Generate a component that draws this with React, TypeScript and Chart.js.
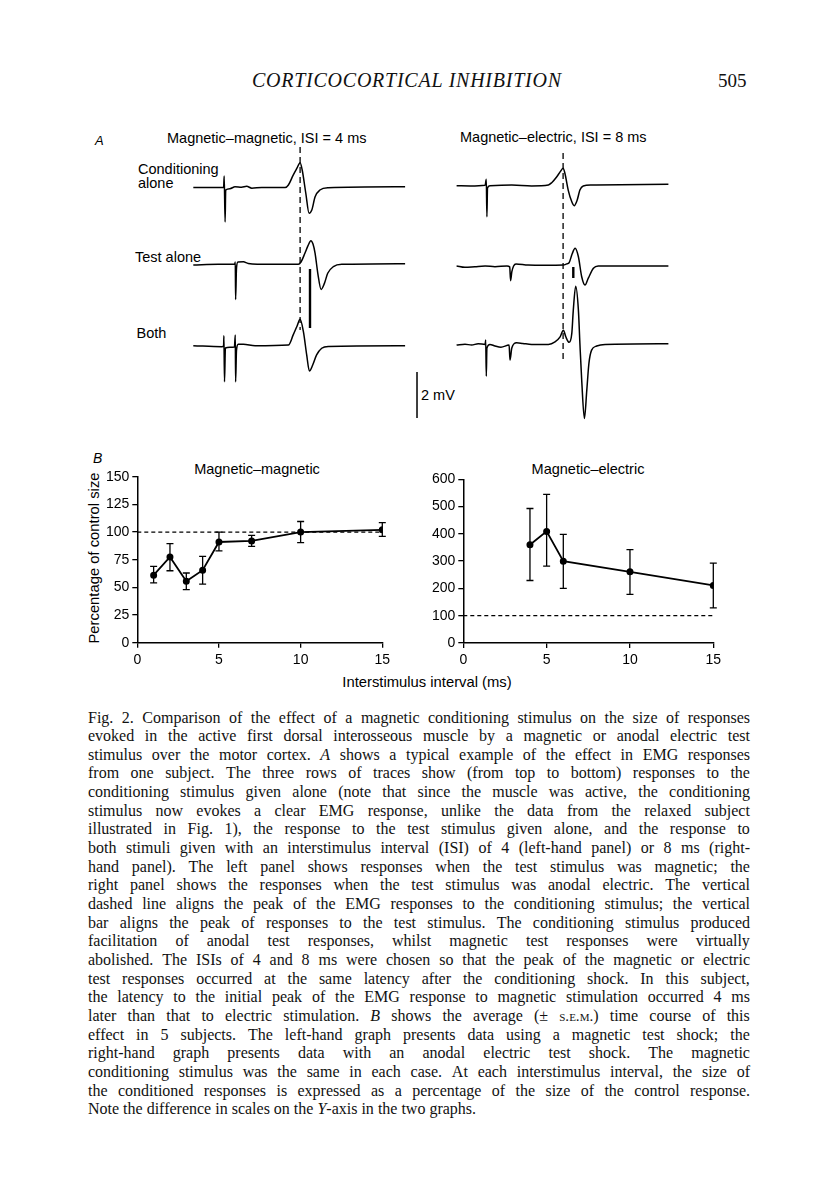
import React, { useEffect, useRef } from "react";
import { Chart, registerables } from "chart.js";

Chart.register(...registerables);

// ---------------- Panel B data ----------------
const xTickValues = [0, 5, 10, 15];
const mmYTicks = [0, 25, 50, 75, 100, 125, 150];
const meYTicks = [0, 100, 200, 300, 400, 500, 600];
const controlLevel = 100;

// Magnetic–magnetic (percentage of control size, mean ± s.e.m.)
const mmIsi = [1, 2, 3, 4, 5, 7, 10, 15];
const mmMean = [61, 77.5, 55.5, 65.5, 91, 92, 100, 102];
const mmLow = [54, 65, 48, 53, 83, 87, 90.5, 96];
const mmHigh = [69, 89.5, 63, 78, 100, 97, 109.5, 108.5];

// Magnetic–electric
const meIsi = [4, 5, 6, 10, 15];
const meMean = [360, 409, 300, 261, 211];
const meLow = [229, 282, 200, 178, 129];
const meHigh = [493, 545, 398, 342, 293];

// ---------------- Panel A traces: [time (ms), EMG (mV)] ----------------
const mmConditioning: [number, number][] = [
  [0.1, 0], [10.1, 0], [10.2, 0], [10.4, 0.5], [10.7, -1.5], [10.9, -0.11], [12.3, -0.05],
  [14, 0.03], [16.2, 0.01], [17.9, 0.05], [19.6, -0.03], [22.9, 0], [30.7, 0], [31.8, 0.11],
  [33.4, 0.54], [34.7, 0.85], [35.7, 1.08], [36.4, 0.76], [37.6, -0.25], [38.7, -1.12],
  [39.6, -0.98], [40.7, -0.4], [42.3, -0.11], [45.1, -0.01], [70.7, 0.03],
];
const mmTest: [number, number][] = [
  [0.1, -0.03], [8.4, 0], [13.9, 0], [14.1, 0.1], [14.2, -1.53], [14.5, -0.16], [15, 0.1],
  [16.8, 0.11], [18.4, 0.04], [25.7, 0], [35.1, 0], [36, 0.1], [37.3, 0.48], [38.3, 0.8],
  [39.3, 1.03], [40, 0.88], [40.7, 0.48], [41.6, -0.39], [42.7, -1.09], [43.8, -0.83],
  [44.9, -0.39], [46.8, -0.1], [49.6, 0], [70.7, 0.03],
];
const mmBoth: [number, number][] = [
  [0.1, 0], [9.6, -0.04], [10.2, -0.01], [10.3, 0.43], [10.5, -1.57], [10.8, -0.1], [12.3, -0.07],
  [13.8, -0.06], [14.1, 0.47], [14.2, -1.57], [14.5, -0.19], [15.1, 0.06], [16.8, 0.07],
  [20.7, 0], [31.8, 0.03], [33.4, 0.47], [34.7, 0.86], [35.7, 1.15], [36.8, 0.61], [37.9, -0.4],
  [38.8, -1.1], [39.9, -0.84], [41.2, -0.4], [42.9, -0.11], [45.1, -0.03], [70.7, 0],
];
const meConditioning: [number, number][] = [
  [0.2, 0], [4.7, -0.01], [9.7, 0.02], [10.1, 0.28], [10.3, -1.35], [10.5, -0.1], [11.3, 0],
  [18.6, 0.03], [25.2, -0.01], [30.8, 0.03], [31.9, 0.13], [33.6, 0.39], [34.7, 0.6],
  [35.7, 0.76], [36.3, 0.54], [37.4, -0.19], [38.6, -0.7], [39.4, -0.87], [40.4, -0.62],
  [41.3, -0.19], [42.4, -0.01], [45.2, 0.03], [70.8, 0.06],
];
const meTest: [number, number][] = [
  [0.2, 0], [3, -0.06], [6.3, -0.03], [9.7, 0], [13, -0.03], [17, 0], [17.9, -0.04],
  [18.2, -0.64], [18.6, -0.26], [19.2, 0], [20, 0.09], [24, 0.04], [29.7, 0.03], [35.8, 0.04],
  [36.9, 0.09], [37.7, 0.14], [38.7, 0.52], [39.7, 0.77], [40.8, 0.4], [41.9, -0.47],
  [43, -0.83], [44.1, -0.53], [45.8, -0.1], [47.4, 0], [70.8, 0],
];
const meBoth: [number, number][] = [
  [0.2, -0.03], [3, 0.01], [5.2, -0.03], [7.4, 0.03], [9.7, 0], [9.9, 0.19], [10.1, -1.38],
  [10.3, -0.16], [11.3, 0], [13, -0.07], [15, -0.12], [17.7, -0.03], [18, -0.68], [18.6, -0.16],
  [20.2, 0.07], [22.3, 0.04], [25.2, 0], [30.8, 0], [33, 0.11], [34.7, 0.33], [35.8, 0.62],
  [36.6, 0.33], [37.7, 0.09], [38.6, 0.48], [39.1, 1.49], [39.9, 2.53], [40.8, 1.49],
  [41.3, 0.04], [41.9, -1.55], [42.8, -3.22], [43.6, -1.99], [44.3, -0.83], [45.2, -0.25],
  [46.9, -0.07], [49.7, 0], [70.8, 0.03],
];

// row baselines (mV) of the three traces in each column
const mmRowBase = [0, -3.34, -6.88];
const meRowBase = [0, -3.49, -6.9];

// reference markers [time, top mV, bottom mV]
const mmDashed: [number, number, number] = [35.7, 1.76, -6.2];
const mmTestBar: [number, number, number] = [39, -3.54, -6.11];
const meDashed: [number, number, number] = [35.7, 1.42, -7.71];
const meTestBar: [number, number, number] = [39.1, -3.53, -4.01];
const scaleBarMv = 2;
const scaleBarPos: [number, number] = [74.67, -8.02];

// caption
const captionLines = [
  "Fig. 2. Comparison of the effect of a magnetic conditioning stimulus on the size of responses",
  "evoked in the active first dorsal interosseous muscle by a magnetic or anodal electric test",
  "stimulus over the motor cortex. *A* shows a typical example of the effect in EMG responses",
  "from one subject. The three rows of traces show (from top to bottom) responses to the",
  "conditioning stimulus given alone (note that since the muscle was active, the conditioning",
  "stimulus now evokes a clear EMG response, unlike the data from the relaxed subject",
  "illustrated in Fig. 1), the response to the test stimulus given alone, and the response to",
  "both stimuli given with an interstimulus interval (ISI) of 4 (left-hand panel) or 8 ms (right-",
  "hand panel). The left panel shows responses when the test stimulus was magnetic; the",
  "right panel shows the responses when the test stimulus was anodal electric. The vertical",
  "dashed line aligns the peak of the EMG responses to the conditioning stimulus; the vertical",
  "bar aligns the peak of responses to the test stimulus. The conditioning stimulus produced",
  "facilitation of anodal test responses, whilst magnetic test responses were virtually",
  "abolished. The ISIs of 4 and 8 ms were chosen so that the peak of the magnetic or electric",
  "test responses occurred at the same latency after the conditioning shock. In this subject,",
  "the latency to the initial peak of the EMG response to magnetic stimulation occurred 4 ms",
  "later than that to electric stimulation. *B* shows the average (± ~s.e.m.~) time course of this",
  "effect in 5 subjects. The left-hand graph presents data using a magnetic test shock; the",
  "right-hand graph presents data with an anodal electric test shock. The magnetic",
  "conditioning stimulus was the same in each case. At each interstimulus interval, the size of",
  "the conditioned responses is expressed as a percentage of the size of the control response.",
  "Note the difference in scales on the *Y*-axis in the two graphs.",
];

const SANS = "'Liberation Sans', Arial, Helvetica, sans-serif";
const SERIF = "'Liberation Serif', 'Times New Roman', serif";

// ---------------- plugins ----------------
const errorBarPlugin = {
  id: "errorBars",
  afterDatasetsDraw(chart: any) {
    const ctx = chart.ctx;
    const xs = chart.scales.x;
    const ys = chart.scales.y;
    chart.data.datasets.forEach((ds: any) => {
      if (!ds.errLow) return;
      ctx.save();
      ctx.strokeStyle = "#000";
      ctx.lineWidth = 1.3;
      ds.data.forEach((p: any, j: number) => {
        const px = xs.getPixelForValue(p.x);
        const y1 = ys.getPixelForValue(ds.errLow[j]);
        const y2 = ys.getPixelForValue(ds.errHigh[j]);
        ctx.beginPath();
        ctx.moveTo(px, y1);
        ctx.lineTo(px, y2);
        ctx.moveTo(px - 3.5, y1);
        ctx.lineTo(px + 3.5, y1);
        ctx.moveTo(px - 3.5, y2);
        ctx.lineTo(px + 3.5, y2);
        ctx.stroke();
      });
      ctx.restore();
    });
  },
};

// ---------------- components ----------------
type GraphProps = {
  left: number; top: number; width: number; height: number;
  padLeft: number; padRight: number; padTop: number; padBottom: number;
  xs: number[]; mean: number[]; low: number[]; high: number[];
  yTicks: number[];
};

function Graph(p: GraphProps) {
  const ref = useRef<HTMLCanvasElement | null>(null);
  useEffect(() => {
    if (!ref.current) return;
    const yMax = p.yTicks[p.yTicks.length - 1];
    const xMax = xTickValues[xTickValues.length - 1];
    const chart = new Chart(ref.current, {
      type: "scatter",
      data: {
        datasets: [
          {
            data: [{ x: 0, y: controlLevel }, { x: xMax, y: controlLevel }],
            showLine: true,
            borderColor: "#000",
            borderWidth: 1.2,
            borderDash: [4, 3],
            pointRadius: 0,
          } as any,
          {
            data: p.xs.map((x, i) => ({ x, y: p.mean[i] })),
            showLine: true,
            borderColor: "#000",
            borderWidth: 1.8,
            pointRadius: 2.6,
            pointBackgroundColor: "#000",
            pointBorderColor: "#000",
            errLow: p.low,
            errHigh: p.high,
          } as any,
        ],
      },
      options: {
        animation: false,
        responsive: false,
        maintainAspectRatio: false,
        devicePixelRatio: 1,
        layout: { padding: { left: 0, right: p.padRight, top: p.padTop, bottom: 0 } },
        plugins: { legend: { display: false }, tooltip: { enabled: false }, title: { display: false } },
        scales: {
          x: {
            type: "linear",
            min: 0,
            max: xMax,
            afterBuildTicks: (s: any) => { s.ticks = xTickValues.map((v) => ({ value: v })); },
            afterFit: (s: any) => { s.height = p.padBottom; },
            ticks: { color: "#000", font: { family: SANS, size: 14 }, padding: 4, maxRotation: 0, autoSkip: false },
            grid: { display: true, drawOnChartArea: false, drawTicks: true, tickLength: 5, color: "#000", lineWidth: 1.3 },
            border: { display: true, color: "#000", width: 1.5 },
          },
          y: {
            type: "linear",
            min: 0,
            max: yMax,
            afterBuildTicks: (s: any) => { s.ticks = p.yTicks.map((v) => ({ value: v })); },
            afterFit: (s: any) => { s.width = p.padLeft; },
            ticks: { color: "#000", font: { family: SANS, size: 14 }, padding: 3, autoSkip: false },
            grid: { display: true, drawOnChartArea: false, drawTicks: true, tickLength: 5, color: "#000", lineWidth: 1.3 },
            border: { display: true, color: "#000", width: 1.5 },
          },
        },
      } as any,
      plugins: [errorBarPlugin],
    });
    return () => chart.destroy();
  }, []);
  return (
    <canvas
      ref={ref}
      width={p.width}
      height={p.height}
      style={{ position: "absolute", left: p.left, top: p.top, width: p.width, height: p.height }}
    />
  );
}

type TraceProps = {
  left: number; top: number; width: number; height: number;
  xMin: number; xMax: number; yMin: number; yMax: number;
  rows: [number, number][][]; bases: number[];
  dashed: [number, number, number]; bar: [number, number, number];
  scale?: [number, number];
};

function Traces(p: TraceProps) {
  const ref = useRef<HTMLCanvasElement | null>(null);
  useEffect(() => {
    if (!ref.current) return;
    const datasets: any[] = p.rows.map((row, i) => ({
      data: row.map(([t, v]) => ({ x: t, y: v + p.bases[i] })),
      showLine: true,
      borderColor: "#000",
      borderWidth: 1.5,
      pointRadius: 0,
      cubicInterpolationMode: "monotone",
    }));
    datasets.push({
      data: [{ x: p.dashed[0], y: p.dashed[1] }, { x: p.dashed[0], y: p.dashed[2] }],
      showLine: true, borderColor: "#000", borderWidth: 1.3, borderDash: [6, 4], pointRadius: 0,
    });
    datasets.push({
      data: [{ x: p.bar[0], y: p.bar[1] }, { x: p.bar[0], y: p.bar[2] }],
      showLine: true, borderColor: "#000", borderWidth: 2.4, pointRadius: 0,
    });
    if (p.scale) {
      datasets.push({
        data: [{ x: p.scale[0], y: p.scale[1] }, { x: p.scale[0], y: p.scale[1] - scaleBarMv }],
        showLine: true, borderColor: "#000", borderWidth: 1.5, pointRadius: 0,
      });
    }
    const chart = new Chart(ref.current, {
      type: "scatter",
      data: { datasets },
      options: {
        animation: false,
        responsive: false,
        maintainAspectRatio: false,
        devicePixelRatio: 1,
        layout: { padding: 0 },
        plugins: { legend: { display: false }, tooltip: { enabled: false } },
        scales: {
          x: { type: "linear", min: p.xMin, max: p.xMax, display: false },
          y: { type: "linear", min: p.yMin, max: p.yMax, display: false },
        },
      } as any,
    });
    return () => chart.destroy();
  }, []);
  return (
    <canvas
      ref={ref}
      width={p.width}
      height={p.height}
      style={{ position: "absolute", left: p.left, top: p.top, width: p.width, height: p.height }}
    />
  );
}

function renderWord(w: string, key: number) {
  const parts = w.split(/(\*[^*]+\*|~[^~]+~)/).filter((s) => s.length);
  return (
    <span key={key}>
      {parts.map((s, i) => {
        if (s.startsWith("*")) return <i key={i}>{s.slice(1, -1)}</i>;
        if (s.startsWith("~")) return <span key={i} style={{ fontVariant: "small-caps", fontSize: "0.95em" }}>{s.slice(1, -1)}</span>;
        return <span key={i}>{s}</span>;
      })}
    </span>
  );
}

function Text(props: { left: number; top: number; size: number; children: any; style?: any }) {
  return (
    <div
      style={{
        position: "absolute", left: props.left, top: props.top, fontSize: props.size,
        lineHeight: 1, fontFamily: SANS, color: "#000", whiteSpace: "nowrap", ...props.style,
      }}
    >
      {props.children}
    </div>
  );
}

export default function App() {
  const capTop = 708.5;
  const capLine = 18.65;
  return (
    <div style={{ position: "absolute", left: 0, top: 0, width: 816, height: 1200, background: "#fff", overflow: "hidden" }}>
      {/* running head */}
      <div style={{ position: "absolute", left: 252, top: 70, fontFamily: SERIF, fontStyle: "italic", fontSize: 20, lineHeight: 1, letterSpacing: 0.75, whiteSpace: "nowrap", color: "#111" }}>
        CORTICOCORTICAL INHIBITION
      </div>
      <div style={{ position: "absolute", left: 718, top: 70.5, fontFamily: SERIF, fontSize: 19, lineHeight: 1, color: "#111" }}>
        505
      </div>

      {/* Panel A */}
      <Text left={95} top={134} size={13} style={{ fontStyle: "italic" }}>A</Text>
      <Text left={167} top={131} size={14.5}>Magnetic–magnetic, ISI = 4 ms</Text>
      <Text left={460} top={130} size={14.5}>Magnetic–electric, ISI = 8 ms</Text>
      <Text left={138} top={162.3} size={14.5} style={{ lineHeight: "14px" }}>Conditioning<br />alone</Text>
      <Text left={135} top={249.7} size={14.5} style={{ lineHeight: "14px" }}>Test alone</Text>
      <Text left={136.5} top={326.3} size={14.5} style={{ lineHeight: "14px" }}>Both</Text>
      <Text left={421} top={388} size={14.5}>2 mV</Text>

      <Traces
        left={185} top={140} width={250} height={285}
        xMin={-2.667} xMax={80.667} yMin={-10.326} yMax={2.065}
        rows={[mmConditioning, mmTest, mmBoth]} bases={mmRowBase}
        dashed={mmDashed} bar={mmTestBar} scale={scaleBarPos}
      />
      <Traces
        left={440} top={140} width={250} height={285}
        xMin={-5.333} xMax={78} yMin={-10.404} yMax={1.987}
        rows={[meConditioning, meTest, meBoth]} bases={meRowBase}
        dashed={meDashed} bar={meTestBar}
      />

      {/* Panel B */}
      <Text left={93} top={451} size={14} style={{ fontStyle: "italic" }}>B</Text>
      <Text left={257} top={461.5} size={14.5} style={{ transform: "translateX(-50%)" }}>Magnetic–magnetic</Text>
      <Text left={588} top={461.5} size={14.5} style={{ transform: "translateX(-50%)" }}>Magnetic–electric</Text>
      <div
        style={{
          position: "absolute", left: 94, top: 558, fontFamily: SANS, fontSize: 14.8, lineHeight: 1,
          whiteSpace: "nowrap", transform: "translate(-50%, -50%) rotate(-90deg)", color: "#000",
        }}
      >
        Percentage of control size
      </div>
      <Text left={427} top={674.5} size={14.8} style={{ transform: "translateX(-50%)" }}>Interstimulus interval (ms)</Text>

      <Graph
        left={80} top={450} width={320} height={220}
        padLeft={57.3} padRight={17.7} padTop={26.7} padBottom={27.3}
        xs={mmIsi} mean={mmMean} low={mmLow} high={mmHigh} yTicks={mmYTicks}
      />
      <Graph
        left={400} top={450} width={340} height={220}
        padLeft={63.3} padRight={26.7} padTop={29.3} padBottom={27}
        xs={meIsi} mean={meMean} low={meLow} high={meHigh} yTicks={meYTicks}
      />

      {/* caption */}
      {captionLines.map((line, i) => {
        const last = i === captionLines.length - 1;
        const words = line.split(" ");
        return (
          <div
            key={i}
            style={{
              position: "absolute", left: 88, top: capTop + i * capLine, width: 662, height: capLine,
              lineHeight: `${capLine}px`, fontFamily: SERIF, fontSize: 16, color: "#111",
              display: "flex", justifyContent: last ? "flex-start" : "space-between",
              gap: last ? "4px" : 0, whiteSpace: "nowrap",
            }}
          >
            {words.map((w, k) => renderWord(w, k))}
          </div>
        );
      })}
    </div>
  );
}
